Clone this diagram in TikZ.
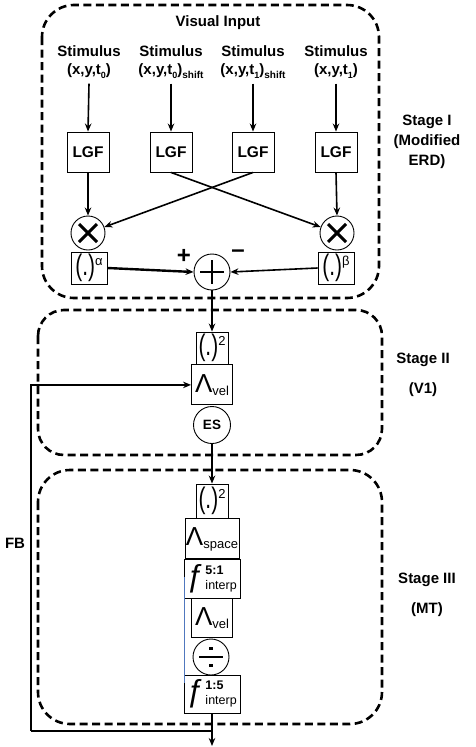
\documentclass[tikz,border=0pt]{standalone}
\usepackage{fontspec}
\usepackage{graphicx}
\setmainfont{Liberation Sans}
\usetikzlibrary{arrows.meta}
\newcommand{\msub}[2][9]{\raisebox{-0.25em}{\fontsize{#1}{#1}\selectfont #2}}
\newcommand{\parpow}[1]{{\fontsize{22}{22}\selectfont\scalebox{0.95}[1.35]{(.)}}\raisebox{10pt}{\fontsize{13}{13}\selectfont #1}}
\newcommand{\lam}[1]{{\fontsize{26}{26}\selectfont Λ}\raisebox{-3pt}{\fontsize{13}{13}\selectfont #1}}
\newcommand{\finterp}[1]{{\fontsize{31}{31}\selectfont\raisebox{-4pt}{ƒ}}\hspace{1pt}{\fontsize{12.5}{15}\selectfont\begin{tabular}[c]{@{}l@{}}\textbf{#1}\\interp\end{tabular}}}
\begin{document}
\begin{tikzpicture}[x=1pt,y=-1pt,
  stagebox/.style={line width=2.6pt, dash pattern=on 8pt off 4.5pt, rounded corners=32pt},
  blk/.style={draw, line width=0.9pt, inner sep=0pt, fill=white},
  circ/.style={draw, circle, line width=0.9pt, inner sep=0pt, minimum size=36pt, fill=white},
  arr/.style={line width=1.6pt, -{Stealth[length=8pt,width=6.5pt]}},
  thk/.style={line width=2.4pt, -{Stealth[length=8pt,width=6.5pt]}},
  fbline/.style={line width=2.4pt},
  sym/.style={line width=3pt},
  lbl/.style={font=\fontsize{15}{20}\selectfont\bfseries, align=center, inner sep=0pt},
  stim/.style={font=\fontsize{15}{18}\selectfont\bfseries, align=center, inner sep=0pt},
  lgf/.style={blk, minimum width=42pt, minimum height=40pt, font=\fontsize{15.5}{16}\selectfont\bfseries},
  blueline/.style={line width=0.6pt, draw={rgb,255:red,80;green,120;blue,190}},
]
\useasboundingbox (0,0) rectangle (476,747);

% stage boxes
\draw[stagebox] (42,5) rectangle (379,298);
\draw[stagebox, rounded corners=26pt] (38,310) rectangle (382,455);
\draw[stagebox] (38,470) rectangle (382,724);

% Stage I
\node[stim] (vi) at (218,23) {Visual Input};
\node[stim] (s1) at (89,62) {Stimulus\\(x,y,t\msub{0})};
\node[stim] (s2) at (171,62) {Stimulus\\(x,y,t\msub{0})\msub[10]{shift}};
\node[stim] (s3) at (253,62) {Stimulus\\(x,y,t\msub{1})\msub[10]{shift}};
\node[stim] (s4) at (336,62) {Stimulus\\(x,y,t\msub{1})};

\node[lgf] (l1) at (88,152) {LGF};
\node[lgf] (l2) at (171,152) {LGF};
\node[lgf] (l3) at (253,152) {LGF};
\node[lgf] (l4) at (336,152) {LGF};

\node[circ, minimum size=34pt] (m1) at (88,233) {};
\node[circ, minimum size=34pt] (m2) at (337,233) {};
\draw[sym] (m1.center) ++(-9,-9) -- ++(18,18);
\draw[sym] (m1.center) ++(9,-9) -- ++(-18,18);
\draw[sym] (m2.center) ++(-9,-9) -- ++(18,18);
\draw[sym] (m2.center) ++(9,-9) -- ++(-18,18);

\node[blk, minimum width=36pt, minimum height=32pt] (pa) at (89,268) {\parpow{α}};
\node[blk, minimum width=36pt, minimum height=32pt] (pb) at (336,268) {\parpow{β}};

\node[circ] (sum) at (212,272) {};
\draw[line width=2.6pt] (sum.center) ++(-12,0) -- ++(24,0);
\draw[line width=2.6pt] (sum.center) ++(0,-12) -- ++(0,24);
\node[font=\fontsize{24}{24}\selectfont\bfseries, inner sep=0pt] (plus) at (184,256) {+};
\node[font=\fontsize{24}{24}\selectfont\bfseries, inner sep=0pt] (minus) at (238,254) {–};

\foreach \i in {1,2,3,4} \draw[arr] (s\i.south) ++(0,5) -- (l\i.north);
\draw[arr] (l1.south) -- (m1.north);
\draw[arr] (l4.south) -- (m2.north);
\draw[arr] (l2.south) -- (m2);
\draw[arr] (l3.south) -- (m1);
\draw[thk] (pa.east) -- (sum.west);
\draw[arr] (pb.west) -- (sum.east);

\node[lbl] (st1) at (427,142) {Stage I\\(Modified\\ERD)};

% Stage II
\node[blk, minimum width=32pt, minimum height=32pt] (q1) at (212,348) {\parpow{2}};
\node[blk, minimum width=41pt, minimum height=40pt, anchor=north] (v1) at (q1.south) {\lam{vel}};
\node[circ, minimum size=37pt] (es) at (212,425) {\fontsize{13.5}{13.5}\selectfont\bfseries ES};
\draw[arr] (sum.south) -- (q1.north);
\node[lbl] (st2) at (423,360) {Stage II};
\node[lbl] (st2b) at (423,390) {(V1)};

% Stage III
\node[blk, minimum width=32pt, minimum height=34pt] (q2) at (212,501) {\parpow{2}};
\node[blk, minimum width=54pt, minimum height=40pt, anchor=north] (ls) at (q2.south) {\lam{space}};
\node[blk, minimum width=56pt, minimum height=39pt, anchor=north] (f1) at (ls.south) {\finterp{5:1}};
\node[blk, minimum width=41pt, minimum height=39pt] (v2) at (212,618) {\lam{vel}};
\node[circ] (dv) at (211,657) {};
\draw[line width=2.6pt] (dv.center) ++(-12,0) -- ++(24,0);
\fill (dv.center) ++(-1.7,-10) rectangle ++(3.4,3.4);
\fill (dv.center) ++(-1.7,6.6) rectangle ++(3.4,3.4);
\node[blk, minimum width=56pt, minimum height=38pt] (f2) at (212,694) {\finterp{1:5}};
\draw[blueline] (f1.south west) ++(0.5,-22) coordinate (bl1) -- (f2.north west -| bl1) ++(0,0) -- ++(0,8);
\draw[arr] (es.south) -- (q2.north);
\node[lbl] (st3) at (427,580) {Stage III};
\node[lbl] (st3b) at (427,610) {(MT)};

% output and feedback
\coordinate (out) at (212,746);
\coordinate (fbj) at (212,731);
\coordinate (fbc) at (31,731);
\draw[arr] (f2.south) -- (out);
\draw[fbline] (fbj) -- (fbc);
\draw[arr, line width=2.4pt] (fbc) |- (v1.west);
\node[lbl] (fb) at (15,543) {FB};
\end{tikzpicture}
\end{document}
